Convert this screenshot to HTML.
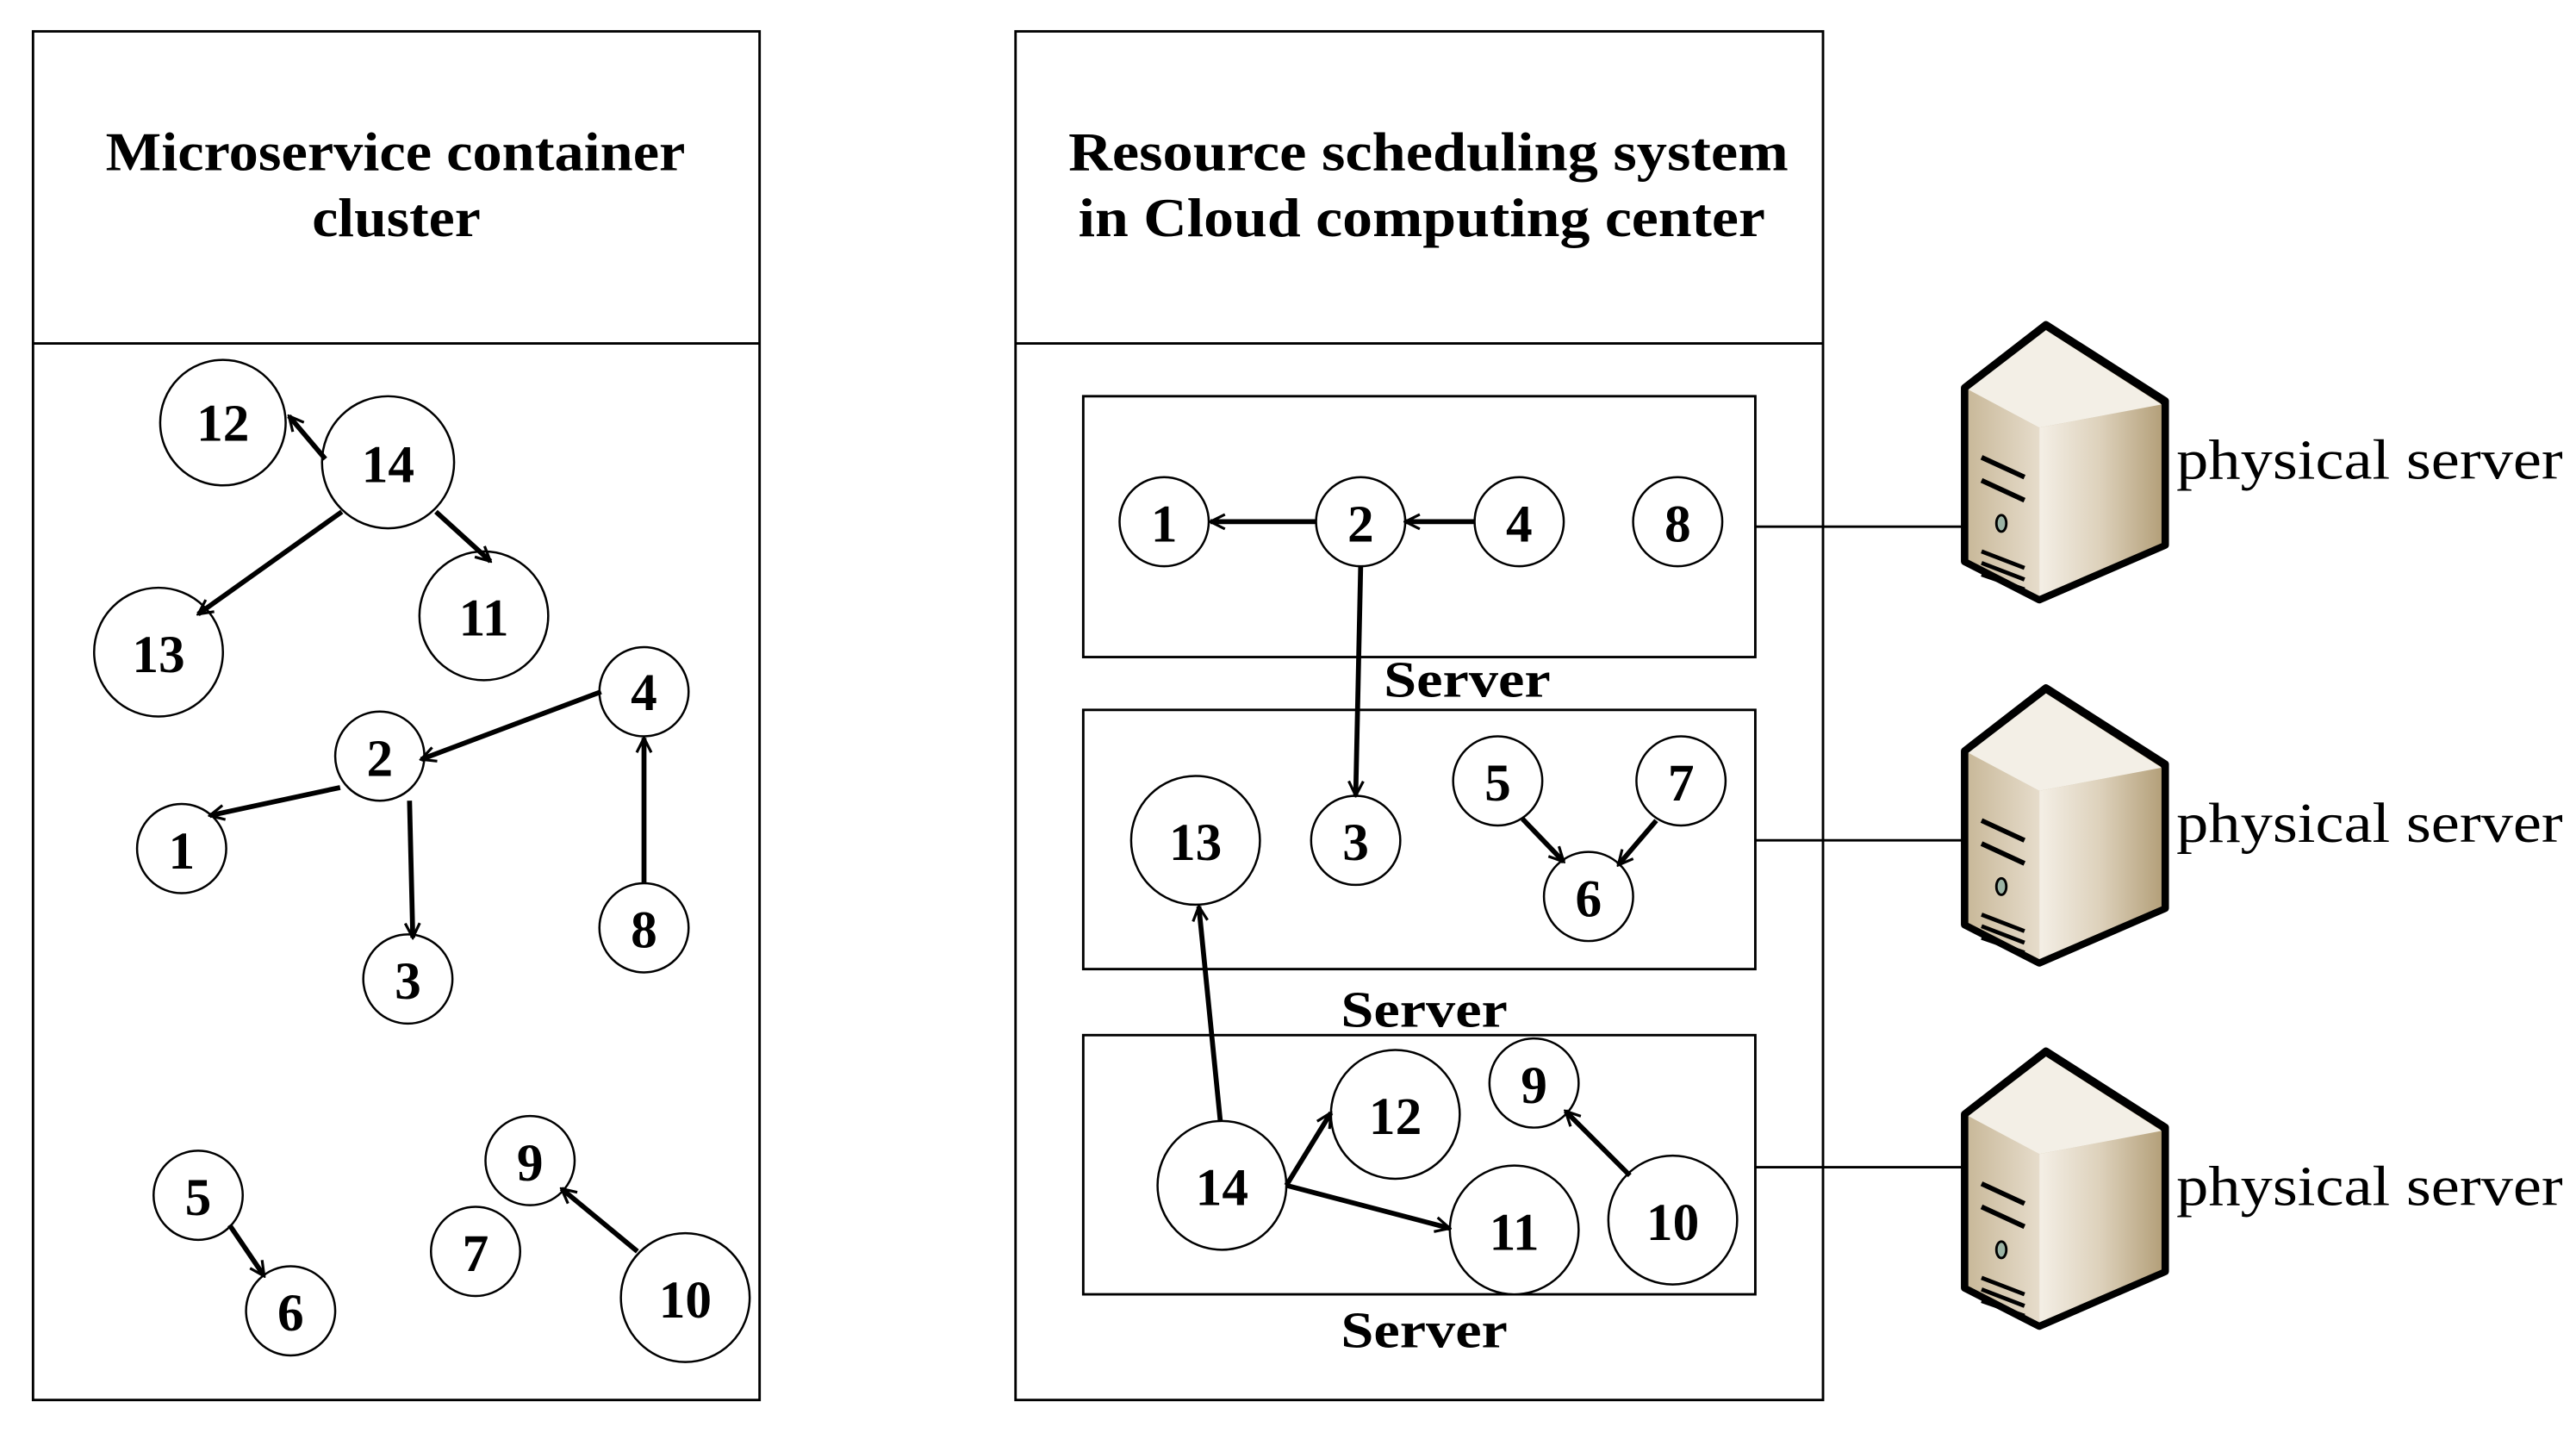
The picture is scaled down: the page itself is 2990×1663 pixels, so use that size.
<!DOCTYPE html>
<html><head><meta charset="utf-8"><style>
html,body{margin:0;padding:0;background:#fff;}
svg{display:block;}
text{font-family:"Liberation Serif",serif;font-weight:bold;fill:#000;}
</style></head><body>
<svg width="2990" height="1663" viewBox="0 0 1560 868" preserveAspectRatio="none" xmlns="http://www.w3.org/2000/svg">
<defs>
<marker id="a" viewBox="0 0 20 20" refX="18" refY="10" markerWidth="11" markerHeight="11" markerUnits="userSpaceOnUse" orient="auto">
<polyline points="2,2 18,10 2,18" fill="none" stroke="#000" stroke-width="3"/>
</marker>
<linearGradient id="gf" x1="0" x2="1" y1="0" y2="0"><stop offset="0" stop-color="#c9b99a"/><stop offset="1" stop-color="#e6dccb"/></linearGradient>
<linearGradient id="gr" x1="0" x2="1" y1="0" y2="0"><stop offset="0" stop-color="#f4efe6"/><stop offset="0.5" stop-color="#ddd1bb"/><stop offset="1" stop-color="#b4a07a"/></linearGradient>
<g id="srv">
<polygon points="0,38 49,0 121,46 121,133 45,166 0,143" fill="#bfae8c" stroke="#000" stroke-width="5" stroke-linejoin="round"/>
<polygon points="2,39 45,62 45,164 2,142" fill="url(#gf)"/>
<polygon points="45,62 119,48 119,132 45,164" fill="url(#gr)"/>
<polygon points="2,39 49,3 119,48 45,62" fill="#f3efe6"/>
<line x1="10" y1="80" x2="36" y2="92" stroke="#000" stroke-width="3"/>
<line x1="10" y1="94" x2="36" y2="106" stroke="#000" stroke-width="3"/>
<ellipse cx="22" cy="120" rx="3" ry="5" fill="#9bb3a4" stroke="#000" stroke-width="1.5"/>
<line x1="10" y1="137" x2="36" y2="147" stroke="#000" stroke-width="2.5"/>
<line x1="10" y1="144" x2="36" y2="154" stroke="#000" stroke-width="2.5"/>
<line x1="10" y1="151" x2="36" y2="160" stroke="#000" stroke-width="2.5"/>
</g>
</defs>
<g fill="none" stroke="#000" stroke-width="1.5">
<rect x="20" y="19" width="440" height="829"/>
<line x1="20" y1="208" x2="460" y2="208"/>
<rect x="615" y="19" width="489" height="829"/>
<line x1="615" y1="208" x2="1104" y2="208"/>
<rect x="656" y="240" width="407" height="158"/>
<rect x="656" y="430" width="407" height="157"/>
<rect x="656" y="627" width="407" height="157"/>
<line x1="1063" y1="319" x2="1192" y2="319"/>
<line x1="1063" y1="509" x2="1192" y2="509"/>
<line x1="1063" y1="707" x2="1192" y2="707"/>
</g>
<use href="#srv" x="1190" y="197"/>
<use href="#srv" x="1190" y="417"/>
<use href="#srv" x="1190" y="637"/>
<g font-size="34">
<text x="1318" y="290" style="font-weight:normal" textLength="234" lengthAdjust="spacingAndGlyphs">physical server</text>
<text x="1318" y="510" style="font-weight:normal" textLength="234" lengthAdjust="spacingAndGlyphs">physical server</text>
<text x="1318" y="730" style="font-weight:normal" textLength="234" lengthAdjust="spacingAndGlyphs">physical server</text>
</g>
<g font-size="33">
<text x="64" y="103" textLength="351" lengthAdjust="spacingAndGlyphs">Microservice container</text>
<text x="189" y="143" textLength="102" lengthAdjust="spacingAndGlyphs">cluster</text>
<text x="647" y="103" textLength="436" lengthAdjust="spacingAndGlyphs">Resource scheduling system</text>
<text x="653" y="143" textLength="416" lengthAdjust="spacingAndGlyphs">in Cloud computing center</text>
</g>
<g font-size="31">
<text x="838" y="422" textLength="101" lengthAdjust="spacingAndGlyphs">Server</text>
<text x="812" y="622" textLength="101" lengthAdjust="spacingAndGlyphs">Server</text>
<text x="812" y="816" textLength="101" lengthAdjust="spacingAndGlyphs">Server</text>
</g>
<g fill="#fff" stroke="#000" stroke-width="1.3">
<circle cx="135" cy="256" r="38"/><circle cx="235" cy="280" r="40"/><circle cx="96" cy="395" r="39"/><circle cx="293" cy="373" r="39"/>
<circle cx="390" cy="419" r="27"/><circle cx="230" cy="458" r="27"/><circle cx="110" cy="514" r="27"/><circle cx="247" cy="593" r="27"/>
<circle cx="390" cy="562" r="27"/><circle cx="120" cy="724" r="27"/><circle cx="176" cy="794" r="27"/><circle cx="321" cy="703" r="27"/>
<circle cx="288" cy="758" r="27"/><circle cx="415" cy="786" r="39"/>
<circle cx="705" cy="316" r="27"/><circle cx="824" cy="316" r="27"/><circle cx="920" cy="316" r="27"/><circle cx="1016" cy="316" r="27"/>
<circle cx="724" cy="509" r="39"/><circle cx="821" cy="509" r="27"/><circle cx="907" cy="473" r="27"/><circle cx="1018" cy="473" r="27"/>
<circle cx="962" cy="543" r="27"/><circle cx="740" cy="718" r="39"/><circle cx="845" cy="675" r="39"/><circle cx="929" cy="656" r="27"/>
<circle cx="917" cy="745" r="39"/><circle cx="1013" cy="739" r="39"/>
</g>
<g stroke="#000" stroke-width="3" fill="none" marker-end="url(#a)">
<line x1="197" y1="278" x2="175" y2="252"/>
<line x1="207" y1="310" x2="120" y2="372"/>
<line x1="264" y1="310" x2="297" y2="340"/>
<line x1="364" y1="419" x2="255" y2="460"/>
<line x1="206" y1="477" x2="127" y2="494"/>
<line x1="248" y1="485" x2="250" y2="568"/>
<line x1="390" y1="535" x2="390" y2="447"/>
<line x1="139" y1="742" x2="160" y2="773"/>
<line x1="386" y1="758" x2="340" y2="720"/>
<line x1="797" y1="316" x2="733" y2="316"/>
<line x1="893" y1="316" x2="851" y2="316"/>
<line x1="824" y1="343" x2="821" y2="482"/>
<line x1="922" y1="496" x2="947" y2="522"/>
<line x1="1003" y1="497" x2="980" y2="524"/>
<line x1="739" y1="679" x2="726" y2="549"/>
<line x1="779" y1="718" x2="806" y2="674"/>
<line x1="779" y1="718" x2="878" y2="744"/>
<line x1="987" y1="712" x2="948" y2="673"/>
</g>
<g font-size="32" text-anchor="middle">
<text x="135" y="267">12</text><text x="235" y="292">14</text><text x="96" y="407">13</text><text x="293" y="385">11</text>
<text x="390" y="430">4</text><text x="230" y="470">2</text><text x="110" y="526">1</text><text x="247" y="605">3</text>
<text x="390" y="574">8</text><text x="120" y="736">5</text><text x="176" y="806">6</text><text x="321" y="715">9</text>
<text x="288" y="770">7</text><text x="415" y="798">10</text>
<text x="705" y="328">1</text><text x="824" y="328">2</text><text x="920" y="328">4</text><text x="1016" y="328">8</text>
<text x="724" y="521">13</text><text x="821" y="521">3</text><text x="907" y="485">5</text><text x="1018" y="485">7</text>
<text x="962" y="555">6</text><text x="740" y="730">14</text><text x="845" y="687">12</text><text x="929" y="668">9</text>
<text x="917" y="757">11</text><text x="1013" y="751">10</text>
</g>
</svg>
</body></html>
